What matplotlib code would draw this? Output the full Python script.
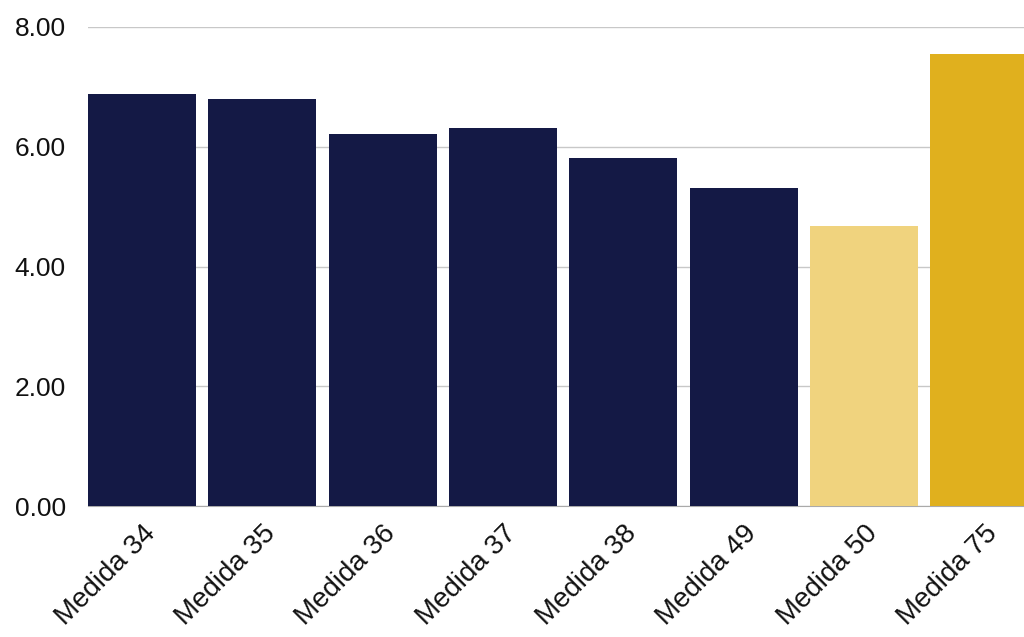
import matplotlib
matplotlib.use("Agg")
import matplotlib.pyplot as plt
import matplotlib.transforms as mtransforms

categories = ["Medida 34", "Medida 35", "Medida 36", "Medida 37", "Medida 38", "Medida 49", "Medida 50", "Medida 75"]
values = [6.88, 6.80, 6.21, 6.31, 5.81, 5.31, 4.67, 7.55]
colors = ["#141945", "#141945", "#141945", "#141945", "#141945", "#141945", "#F0D37E", "#E0B01E"]
yticks = [0, 2, 4, 6, 8]

plt.rcParams['font.family'] = ['Liberation Sans', 'DejaVu Sans']

fig = plt.figure(figsize=(10.24, 6.37), dpi=100)
ax = fig.add_axes([88/1024, (637-506)/637, 1 - 88/1024, (506-27)/637])

x = list(range(len(categories)))
ax.bar(x, values, width=0.898, color=colors, zorder=3)
ax.set_xlim(-0.449, 7.33)
ax.set_ylim(0, 8)
ax.set_yticks(yticks)
ax.set_yticklabels([f"{v:.2f}" for v in yticks], fontsize=19, color="#111111")
ax.set_xticks(x)
ax.set_xticklabels(categories, rotation=45, ha="right", rotation_mode="anchor", fontsize=20, color="#111111")
offset = mtransforms.ScaledTranslation(17/100, 0, fig.dpi_scale_trans)
for lab in ax.get_xticklabels():
    lab.set_transform(lab.get_transform() + offset)
ax.tick_params(axis="both", length=0)
ax.tick_params(axis="y", pad=16)
ax.tick_params(axis="x", pad=10)
ax.grid(axis="y", color="#c8c8c8", linewidth=1, zorder=0)
for s in ["top", "right", "left"]:
    ax.spines[s].set_visible(False)
ax.spines["bottom"].set_color("#aaaaaa")
ax.spines["bottom"].set_zorder(2)

fig.savefig("out.png", dpi=100)
